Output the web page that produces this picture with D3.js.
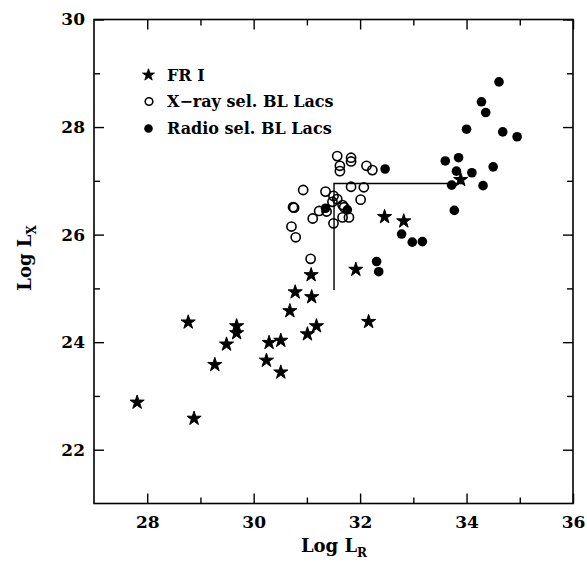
<!DOCTYPE html>
<html>
<head>
<meta charset="utf-8">
<script src="https://cdn.jsdelivr.net/npm/d3@7.9.0/dist/d3.min.js"></script>
<style>
  body { margin: 0; background: #fff; }
  svg { display: block; }
  text { font-family: "DejaVu Serif", serif; fill: #000; font-weight: bold; }
</style>
</head>
<body>
<div id="chart"></div>
<script>
// FR I radio galaxies: [log L_R, log L_X]
const frI = [
  [27.81, 22.88], [28.77, 24.37], [28.88, 22.58], [29.27, 23.58], [29.49, 23.96],
  [29.68, 24.30], [29.68, 24.17], [30.24, 23.66], [30.29, 23.99], [30.51, 24.03],
  [30.51, 23.44], [30.68, 24.58], [30.78, 24.93], [31.09, 24.84], [31.01, 24.15],
  [31.18, 24.30], [31.08, 25.25], [31.92, 25.35], [32.16, 24.38], [32.46, 26.33],
  [32.82, 26.25], [33.89, 27.02]
];

// X-ray selected BL Lacs
const xraySel = [
  [31.57, 27.46], [31.83, 27.43], [31.83, 27.36], [31.62, 27.28], [31.62, 27.18],
  [32.12, 27.28], [32.23, 27.20], [30.93, 26.83], [31.35, 26.80], [31.83, 26.89],
  [32.07, 26.88], [31.50, 26.72], [31.57, 26.66], [32.01, 26.65], [30.74, 26.51],
  [30.76, 26.50], [31.67, 26.55], [31.70, 26.51], [31.23, 26.44], [31.37, 26.43],
  [31.11, 26.30], [31.67, 26.32], [31.79, 26.32], [31.50, 26.21], [30.71, 26.15],
  [30.79, 25.95], [31.07, 25.55], [31.48, 26.61]
];

// Radio selected BL Lacs
const radioSel = [
  [32.47, 27.22], [34.61, 28.84], [34.28, 28.47], [34.36, 28.27], [34.00, 27.96],
  [34.68, 27.91], [34.95, 27.82], [33.60, 27.37], [33.85, 27.43], [33.81, 27.18],
  [34.10, 27.15], [34.50, 27.26], [33.72, 26.92], [34.31, 26.91], [33.77, 26.45],
  [32.78, 26.01], [32.98, 25.86], [33.17, 25.87], [32.31, 25.50], [32.35, 25.31],
  [31.76, 26.46], [31.35, 26.49]
];

// corner line drawn in the plot
const limitLine = [[33.95, 26.95], [31.51, 26.95], [31.51, 24.97]];

const xMajor = [28, 30, 32, 34, 36];
const xMinor = [29, 31, 33, 35];
const yMajor = [22, 24, 26, 28, 30];
const yMinor = [23, 25, 27, 29];

const legendLabels = ["FR I", "X\u2212ray sel. BL Lacs", "Radio sel. BL Lacs"];

const width = 587, height = 568;

const svg = d3.select("#chart").append("svg")
  .attr("width", width)
  .attr("height", height);

const x = d3.scaleLinear().domain([27, 36]).range([94, 573]);
const y = d3.scaleLinear().domain([21, 30]).range([503.5, 19.5]);

// ticks (all pointing inward, on all four sides)
function tickAxis(axis, values, size, transform, labels) {
  const g = svg.append("g")
    .attr("transform", transform)
    .call(axis.tickValues(values).tickSize(size).tickPadding(labels ? labels : 0)
      .tickFormat(labels ? d3.format("d") : () => ""));
  g.select(".domain").remove();
  g.selectAll(".tick line").attr("stroke", "#000").attr("stroke-width", 1.4);
  g.selectAll("text")
    .style("font-size", "17px")
    .style("font-family", "'DejaVu Serif', serif")
    .style("font-weight", "bold")
    .attr("fill", "#000");
  return g;
}

tickAxis(d3.axisBottom(x), xMajor, -10, `translate(0,${y(21)})`, 12);
tickAxis(d3.axisBottom(x), xMinor, -6, `translate(0,${y(21)})`);
tickAxis(d3.axisTop(x), xMajor, -10, `translate(0,${y(30)})`);
tickAxis(d3.axisTop(x), xMinor, -6, `translate(0,${y(30)})`);
tickAxis(d3.axisLeft(y), yMajor, -10, `translate(${x(27)},0)`, 9);
tickAxis(d3.axisLeft(y), yMinor, -6, `translate(${x(27)},0)`);
tickAxis(d3.axisRight(y), yMajor, -10, `translate(${x(36)},0)`);
tickAxis(d3.axisRight(y), yMinor, -6, `translate(${x(36)},0)`);

// frame
svg.append("rect")
  .attr("x", x(27)).attr("y", y(30))
  .attr("width", x(36) - x(27)).attr("height", y(21) - y(30))
  .attr("fill", "none").attr("stroke", "#000").attr("stroke-width", 1.6);

// corner line
svg.append("path")
  .attr("d", d3.line().x(d => x(d[0])).y(d => y(d[1]))(limitLine))
  .attr("fill", "none").attr("stroke", "#000").attr("stroke-width", 1.4);

const star = d3.symbol().type(d3.symbolStar).size(62);

svg.append("g").selectAll("circle")
  .data(xraySel).join("circle")
  .attr("cx", d => x(d[0])).attr("cy", d => y(d[1])).attr("r", 4.6)
  .attr("fill", "none").attr("stroke", "#000").attr("stroke-width", 1.6);

svg.append("g").selectAll("circle")
  .data(radioSel).join("circle")
  .attr("cx", d => x(d[0])).attr("cy", d => y(d[1])).attr("r", 4.8)
  .attr("fill", "#000");

svg.append("g").selectAll("path")
  .data(frI).join("path")
  .attr("d", star)
  .attr("transform", d => `translate(${x(d[0])},${y(d[1])})`)
  .attr("fill", "#000").attr("stroke", "#000").attr("stroke-width", 1)
  .attr("stroke-linejoin", "round");

// legend
const legend = svg.append("g");
const rowY = [75, 101.5, 128.5];
legend.append("path").attr("d", d3.symbol().type(d3.symbolStar).size(44)())
  .attr("transform", `translate(148.5,${rowY[0]})`)
  .attr("fill", "#000").attr("stroke", "#000").attr("stroke-width", 0.9)
  .attr("stroke-linejoin", "round");
legend.append("circle").attr("cx", 149).attr("cy", rowY[1]).attr("r", 3.8)
  .attr("fill", "none").attr("stroke", "#000").attr("stroke-width", 1.6);
legend.append("circle").attr("cx", 148.5).attr("cy", rowY[2]).attr("r", 4.3)
  .attr("fill", "#000");
legend.selectAll("text")
  .data(legendLabels).join("text")
  .attr("x", 167)
  .attr("y", (d, i) => rowY[i] + 5.8)
  .style("font-size", "16px")
  .text(d => d);

// axis titles
const xt = svg.append("text")
  .attr("x", 334).attr("y", 552)
  .attr("text-anchor", "middle")
  .style("font-size", "18px");
xt.append("tspan").text("Log  L");
xt.append("tspan").attr("dy", 5).style("font-size", "12px").text("R");

const yt = svg.append("text")
  .attr("transform", "translate(31,258) rotate(-90)")
  .attr("text-anchor", "middle")
  .style("font-size", "18px");
yt.append("tspan").text("Log  L");
yt.append("tspan").attr("dy", 5).style("font-size", "12px").text("X");
</script>
</body>
</html>
